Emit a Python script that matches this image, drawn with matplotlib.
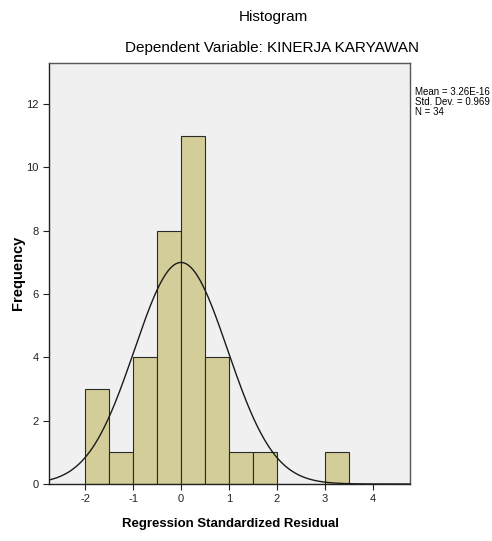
import numpy as np
import matplotlib
matplotlib.use("Agg")
import matplotlib.pyplot as plt

bin_left = [-2.0, -1.5, -1.0, -0.5, 0.0, 0.5, 1.0, 1.5, 2.0, 2.5, 3.0]
counts = [3, 1, 4, 8, 11, 4, 1, 1, 0, 0, 1]
bin_width = 0.5
mean = 3.26e-16
std = 0.969
n = 34
xticks = [-2, -1, 0, 1, 2, 3, 4]
yticks = [0, 2, 4, 6, 8, 10, 12]

plt.rcParams['font.family'] = ['Liberation Sans', 'DejaVu Sans']

fig = plt.figure(figsize=(4.92, 5.41), dpi=100)
ax = fig.add_axes([49/492, 1-484/541, (410-49)/492, (484-63)/541])
ax.set_facecolor('#F0F0F0')

ax.bar(bin_left, counts, width=bin_width, align='edge', color='#D3CE99',
       edgecolor='#2a2a2a', linewidth=0.8, zorder=2)

xs = np.linspace(-2.75, 4.77, 400)
pdf = n * bin_width / (std * np.sqrt(2*np.pi)) * np.exp(-0.5*((xs-mean)/std)**2)
ax.plot(xs, pdf, color='#1a1a1a', linewidth=1.0, zorder=3)

ax.set_xlim(-2.75, 4.77)
ax.set_ylim(0, 13.3)
ax.set_xticks(xticks)
ax.set_yticks(yticks)
ax.set_xticklabels([str(t) for t in xticks])
ax.tick_params(axis='both', direction='out', length=4, width=0.8, labelsize=8, colors='#222222')
for s in ax.spines.values():
    s.set_color('#555555')
    s.set_linewidth(1.0)
ax.spines['bottom'].set_color('#222222')
ax.spines['left'].set_color('#222222')

fig.text(230/492, 1-524/541, 'Regression Standardized Residual', ha='center', va='center',
         fontsize=9.5, fontweight='bold')
fig.text(18/492, 1-273/541, 'Frequency', ha='center', va='center', rotation=90,
         fontsize=10.5, fontweight='bold')

fig.text(273/492, 1-17/541, 'Histogram', ha='center', va='center', fontsize=11)
fig.text(272/492, 1-48/541, 'Dependent Variable: KINERJA KARYAWAN', ha='center', va='center', fontsize=11)

fig.text(415/492, 1-87/541, 'Mean = 3.26E-16\nStd. Dev. = 0.969\nN = 34', ha='left', va='top',
         fontsize=7, linespacing=1.0)

fig.savefig('out.png', dpi=100)
